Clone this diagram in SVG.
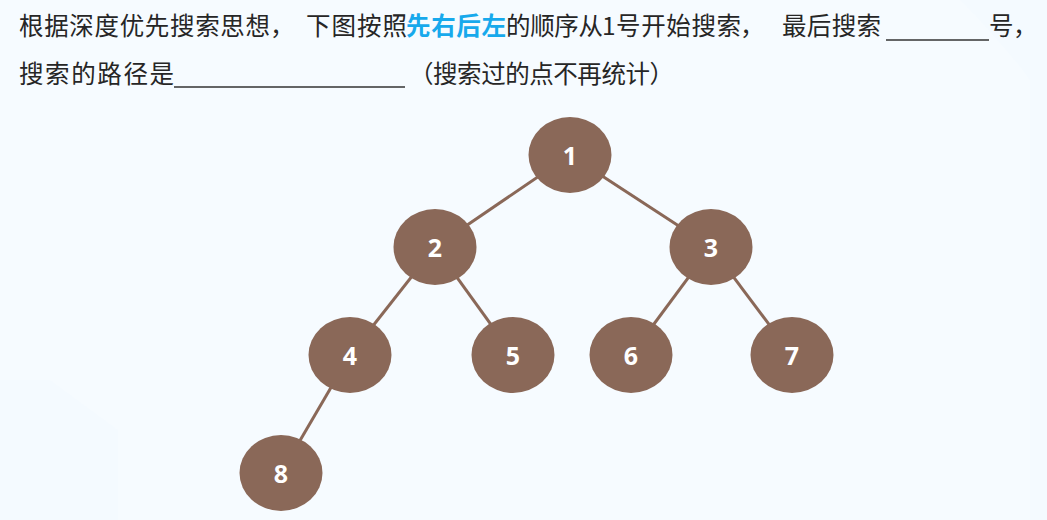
<svg xmlns="http://www.w3.org/2000/svg" width="1047" height="520" viewBox="0 0 1047 520">
<defs>
<style>
.q{font-family:"Noto Sans CJK SC","Noto Sans",sans-serif;font-size:24.5px;fill:#262626}
.hl{fill:#17a9ec;font-weight:bold}
.ul{stroke:#333;stroke-width:1.3}
.node ellipse{fill:#8a6858}
.node text{font-family:"Noto Sans","Liberation Sans",sans-serif;font-weight:bold;font-size:25px;fill:#ffffff;text-anchor:middle;dominant-baseline:central}
.edge{stroke:#8a6858;stroke-width:3;fill:none}
</style>
</defs>
<rect width="1047" height="520" fill="#f4faff"/>
<path d="M0 0 H960 Q1000 40 1030 80 V520 H118 V430 L50 380 H0 Z" fill="#f6fbff"/>
<g id="question">
<text class="q" y="35"><tspan x="19" textLength="251" lengthAdjust="spacing">根据深度优先搜索思想</tspan><tspan x="270">，</tspan><tspan x="306" textLength="101" lengthAdjust="spacing">下图按照</tspan><tspan x="406" class="hl" textLength="100" lengthAdjust="spacing">先右后左</tspan><tspan x="506" textLength="97" lengthAdjust="spacing">的顺序从</tspan><tspan x="602">1</tspan><tspan x="616" textLength="125" lengthAdjust="spacing">号开始搜索</tspan><tspan x="740">，</tspan><tspan x="782" textLength="99" lengthAdjust="spacing">最后搜索</tspan><tspan x="989">号</tspan><tspan x="1013">，</tspan></text>
<line class="ul" x1="886" y1="40" x2="989" y2="40"/>
<text class="q" y="83"><tspan x="19" textLength="155" lengthAdjust="spacing">搜索的路径是</tspan><tspan x="409" textLength="265" lengthAdjust="spacing">（搜索过的点不再统计）</tspan></text>
<line class="ul" x1="174" y1="87" x2="405" y2="87"/>
</g>
<g id="connectors">
<line class="edge" x1="570" y1="155" x2="435" y2="247"/>
<line class="edge" x1="570" y1="155" x2="711" y2="247"/>
<line class="edge" x1="435" y1="247" x2="350" y2="355"/>
<line class="edge" x1="435" y1="247" x2="513" y2="355"/>
<line class="edge" x1="711" y1="247" x2="631" y2="355"/>
<line class="edge" x1="711" y1="247" x2="792" y2="355"/>
<line class="edge" x1="350" y1="355" x2="281" y2="473"/>
</g>
<g id="node1" class="node"><ellipse cx="570" cy="155" rx="41.5" ry="38"/><text x="570" y="155">1</text></g>
<g id="node2" class="node"><ellipse cx="435" cy="247" rx="41.5" ry="38"/><text x="435" y="247">2</text></g>
<g id="node3" class="node"><ellipse cx="711" cy="247" rx="41.5" ry="38"/><text x="711" y="247">3</text></g>
<g id="node4" class="node"><ellipse cx="350" cy="355" rx="41.5" ry="38"/><text x="350" y="355">4</text></g>
<g id="node5" class="node"><ellipse cx="513" cy="355" rx="41.5" ry="38"/><text x="513" y="355">5</text></g>
<g id="node6" class="node"><ellipse cx="631" cy="355" rx="41.5" ry="38"/><text x="631" y="355">6</text></g>
<g id="node7" class="node"><ellipse cx="792" cy="355" rx="41.5" ry="38"/><text x="792" y="355">7</text></g>
<g id="node8" class="node"><ellipse cx="281" cy="473" rx="41.5" ry="38"/><text x="281" y="473">8</text></g>
</svg>
